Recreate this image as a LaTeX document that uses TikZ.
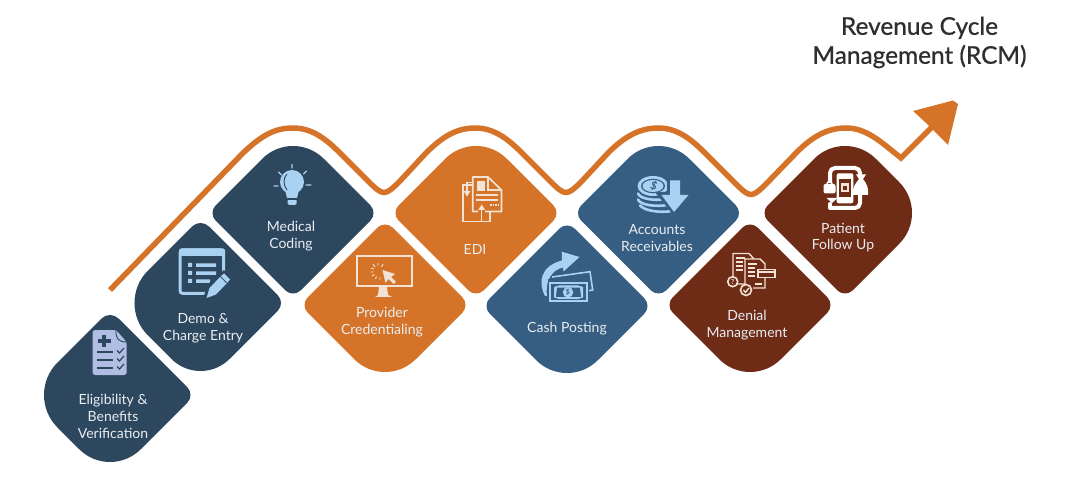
\documentclass[tikz,border=0pt]{standalone}
\usepackage{fontspec}
\setmainfont{Lato}
\newfontfamily\titlefont[FakeBold=0.8]{Lato}
\definecolor{cnavy}{HTML}{2D475F}
\definecolor{cblue}{HTML}{365D82}
\definecolor{corange}{HTML}{D57429}
\definecolor{cbrown}{HTML}{6E2B16}
\definecolor{clight}{HTML}{A9D2F2}
\definecolor{cperi}{HTML}{B1BEE3}
\definecolor{cpale}{HTML}{F2E3D6}
\definecolor{ctext}{HTML}{E9EEF2}
\definecolor{ctitle}{HTML}{2E2E2E}
\newcommand{\rdia}[7]{% cx cy colour sagT sagR sagB sagL
  \pgfmathsetmacro{\aT}{#4/.586}\pgfmathsetmacro{\bT}{\aT*.4477}
  \pgfmathsetmacro{\aR}{#5/.586}\pgfmathsetmacro{\bR}{\aR*.4477}
  \pgfmathsetmacro{\aB}{#6/.586}\pgfmathsetmacro{\bB}{\aB*.4477}
  \pgfmathsetmacro{\aL}{#7/.586}\pgfmathsetmacro{\bL}{\aL*.4477}
  \fill[#3] (#1-\aT,#2-85+\aT) .. controls (#1-\bT,#2-85+\bT) and (#1+\bT,#2-85+\bT) .. (#1+\aT,#2-85+\aT)
   -- (#1+85-\aR,#2-\aR) .. controls (#1+85-\bR,#2-\bR) and (#1+85-\bR,#2+\bR) .. (#1+85-\aR,#2+\aR)
   -- (#1+\aB,#2+85-\aB) .. controls (#1+\bB,#2+85-\bB) and (#1-\bB,#2+85-\bB) .. (#1-\aB,#2+85-\aB)
   -- (#1-85+\aL,#2+\aL) .. controls (#1-85+\bL,#2+\bL) and (#1-85+\bL,#2-\bL) .. (#1-85+\aL,#2-\aL)
   -- cycle;}
\tikzset{
  x=1pt,y=-1pt,
  lbl/.style={text=ctext,font=\fontsize{14}{16.8}\selectfont,align=center,inner sep=0pt},
  ttl/.style={text=ctitle,font=\titlefont\fontsize{24.4}{29}\selectfont,align=center,inner sep=0pt},
  route/.style={draw=corange,line width=5.5pt,miter limit=10},
}
\begin{document}
\begin{tikzpicture}
\useasboundingbox (0,0) rectangle (1076,478);
% route
\draw[route] (110,290) -- (243,153)
  .. controls (262,135) and (275,128) .. (293,128)
  .. controls (312,128) and (326,139) .. (340,153)
  -- (368,181) .. controls (376,189) and (380,192.5) .. (384,192.5)
  .. controls (388,192.5) and (392,189) .. (400,181)
  -- (426,153) .. controls (443,136) and (457,128) .. (475.5,128)
  .. controls (494,128) and (508,139) .. (522,153)
  -- (550,181) .. controls (558,189) and (562,192.5) .. (566,192.5)
  .. controls (570,192.5) and (574,189) .. (582,181)
  -- (608,153) .. controls (625,136) and (640,128) .. (658.5,128)
  .. controls (677,128) and (691,139) .. (705,153)
  -- (735,183) .. controls (743,191) and (747,194.5) .. (751,194.5)
  .. controls (755,194.5) and (759,191) .. (767,183)
  -- (797,152) .. controls (813,136) and (828,128) .. (846,128)
  .. controls (866,128) and (880,141) .. (901,158)
  -- (938,121);
\fill[corange] (913,111) -- (953,100.5) -- (958,104) -- (948,145) -- (936,133) -- (925,122) -- cycle;
% diamonds
\rdia{110}{395}{cnavy}{5}{4.5}{18}{19}
\rdia{200.5}{303}{cnavy}{5}{4.5}{17}{19}
\rdia{293}{213}{cnavy}{18}{4.5}{4.5}{4.5}
\rdia{385}{305}{corange}{4.5}{4.5}{18}{4.5}
\rdia{476}{213}{corange}{18}{4.5}{4.5}{4.5}
\rdia{567}{306}{cblue}{4.5}{4.5}{18}{4.5}
\rdia{658.5}{213}{cblue}{18}{4.5}{4.5}{4.5}
\rdia{750}{305}{cbrown}{4.5}{4.5}{18}{4.5}
\rdia{845}{213}{cbrown}{18}{18}{4.5}{4.5}
% labels
\node[ttl] (title) at (919.5,42.5) {Revenue Cycle\\Management (RCM)};
\node[lbl] (n1) at (113,416.5) {Eligibility \&\\Benefits\\Verification};
\node[lbl] (n2) at (203,328) {Demo \&\\Charge Entry};
\node[lbl] (n3) at (291,236) {Medical\\Coding};
\node[lbl] (n4) at (382,322) {Provider\\Credentialing};
\node[lbl] (n5) at (475,249.5) {EDI};
\node[lbl] (n6) at (567,328.5) {Cash Posting};
\node[lbl] (n7) at (657,238) {Accounts\\Receivables};
\node[lbl] (n8) at (747,325) {Denial\\Management};
\node[lbl] (n9) at (843,237.5) {Patient\\Follow Up};
% icon 1: checklist
\fill[cperi,rounded corners=2.5pt] (92.7,330) -- (116,330) -- (126.7,342) -- (126.7,375) -- (92.7,375) -- cycle;
\draw[cnavy,line width=.9pt] (116,330) .. controls (115.5,338) and (118,342) .. (126.7,342);
\draw[cnavy,line width=4pt] (98,340.7) -- (110.5,340.7) (104.3,334.5) -- (104.3,347);
\draw[cnavy,line width=2pt] (97,351.5) -- (113,351.5) (97,359.5) -- (113,359.5) (97,367.5) -- (113,367.5);
\draw[cnavy,line width=1.2pt] (117,350.5) -- (119.5,353) -- (124,348) (117,358.5) -- (119.5,361) -- (124,356) (117,366.5) -- (119.5,369) -- (124,364);
% icon 2: form and pencil
\draw[clight,line width=3pt,rounded corners=3pt] (209,293.5) -- (180,293.5) -- (180,250) -- (223.5,250) -- (223.5,277);
\fill[clight,rounded corners=2pt] (179,248.5) rectangle (225,256);
\fill[clight] (188,263) rectangle (192,267) (188,271) rectangle (192,275) (188,279) rectangle (192,283);
\fill[clight] (196,263.5) rectangle (216,267) (196,271.5) rectangle (216,275) (196,279.5) rectangle (210,283);
\fill[cnavy] (203,300) -- (207,285) -- (224,270) -- (232,279) -- (215,297) -- cycle;
\fill[clight] (206.5,298) -- (209.5,288) -- (221,276) -- (224,273.5) -- (230,279.5) -- (227,283) -- (216,294.5) -- cycle;
\draw[cnavy,line width=.8pt] (220.5,276.5) -- (226.5,282.8);
% icon 3: bulb
\fill[clight] (292,182) circle (12);
\fill[clight] (285,190) -- (299,190) -- (297,198) -- (287,198) -- cycle;
\draw[cnavy,line width=.9pt] (287,174) .. controls (283,178) and (283,185) .. (287,190);
\fill[clight,rounded corners=1.5pt] (287.5,199) rectangle (296.5,205);
\fill[cnavy] (288,198) rectangle (296,200);
\draw[clight,line width=1.4pt,line cap=round] (292,164.5) -- (292,168) (278.5,172) -- (281.5,175) (306.5,171) -- (303.5,174) (274,186) -- (278,186) (306,185) -- (311,185);
% icon 4: monitor
\draw[cpale,line width=2pt] (357,256) rectangle (412,286);
\fill[cpale] (379,287) -- (387,287) -- (388,295) -- (392,297) -- (375,297) -- (378,295) -- cycle;
\fill[cpale] (382.5,270) -- (395,274) -- (391,277) -- (396,282) -- (393.5,284) -- (388.5,279) -- (385.5,283) -- cycle;
\draw[cpale,line width=.9pt] (378,263) -- (378,266) (383,264) -- (381.5,267) (373,264) -- (375,267) (371,268) -- (374,269) (370.5,272) -- (373.5,272) (372,276) -- (374.5,274.5) (375.5,279) -- (376.5,276.5) (380,280) -- (380,277.5);
% icon 5: EDI documents
\draw[cpale,line width=1.7pt] (472,185) -- (462.9,185) -- (462.9,221.5) -- (490,221.5) -- (490,211.5);
\draw[cpale,line width=1.7pt,line join=round] (478,211.5) -- (472.7,211.5) -- (472.7,177) -- (488,177) -- (501.5,190) -- (501.5,211.5) -- (485,211.5);
\draw[cpale,line width=1.3pt] (488,177) -- (488,190) -- (501.5,190);
\fill[cpale] (476.7,180.7) rectangle (485,190.7);
\draw[cpale,line width=1.3pt] (476,195) -- (497.5,195) (476,200) -- (497.5,200);
\draw[cpale,line width=1.4pt,dash pattern=on 1.6pt off 1pt] (490,205) -- (498,205);
\draw[cpale,line width=1.3pt] (472,182.5) -- (467,182.5) -- (467,192);
\fill[cpale] (463.5,191) -- (470.5,191) -- (467,196.5) -- cycle;
\draw[cpale,line width=1.3pt] (481.7,221) -- (481.7,208);
\fill[cpale] (478.2,210) -- (485.2,210) -- (481.7,204.5) -- cycle;
% icon 6: cash
\fill[clight] (545,296) .. controls (538,283) and (540,266) .. (562,260.5) -- (561.7,251.7) -- (579.5,257) -- (563.5,271.5) -- (563,267.5) .. controls (552,270) and (545,280) .. (547,296) -- cycle;
\draw[clight,line width=1.6pt] (552,277) -- (590,271.7) -- (592.7,290) -- (587,291);
\fill[cblue] (548,279.5) rectangle (589,304);
\draw[clight,line width=2pt] (550,283) rectangle (587,301.5);
\fill[clight] (554,287) -- (559,285.5) -- (578,285.5) -- (583,287) -- (583,297.5) -- (578,299) -- (559,299) -- (554,297.5) -- cycle;
\fill[cblue] (557,287.7) -- (580,287.7) -- (581,296.8) -- (556,296.8) -- cycle;
\fill[clight] (568,292.3) circle (5.2);
\node[inner sep=0pt,text=cblue,font=\fontsize{7}{7}\selectfont\bfseries] (cashsign) at (568,292.3) {\$};
% icon 7: coins
\fill[clight] (653,186) ellipse (15.5 and 10);
\fill[cblue] (653,186) ellipse (12 and 7.2);
\fill[clight] (653,186) ellipse (10.5 and 6);
\node[inner sep=0pt,rotate=-20,text=cblue,font=\fontsize{11}{11}\selectfont\bfseries] (coinsign) at (654,186) {\$};
\draw[clight,line width=2.6pt,line cap=round] (638,193.5) .. controls (640,199) and (655,201) .. (664,199) (638,199.5) .. controls (640,205) and (655,207) .. (668,205) (640,205.5) .. controls (645,211) and (660,213) .. (672,211);
\fill[cblue] (667,177) -- (683,177) -- (683,192) -- (693,192) -- (674,216) -- (655,192) -- (667,192) -- cycle;
\fill[clight] (670,180.5) -- (680,180.5) -- (680,195) -- (688.5,195) -- (674,212) -- (661.5,195) -- (670,195) -- cycle;
% icon 8: denial documents
\draw[cpale,line width=1.4pt] (745,284) -- (733,284) (733,277) -- (733,253.5) -- (749,253.5) -- (754,259);
\draw[cpale,line width=1.1pt] (736,258) -- (745,258) (736,262) -- (743,262) (736,266) -- (743,266) (736,270) -- (743,270);
\draw[cpale,line width=1.4pt,fill=cbrown] (745,284) -- (745,259) -- (760,259) -- (765,264) -- (765,288) -- (753,288);
\draw[cpale,line width=1.1pt] (748,264) -- (757,264) (748,268) -- (755,268) (748,272) -- (755,272) (748,276) -- (755,276) (755,284) -- (762,284);
\draw[cpale,line width=1.3pt,fill=cbrown] (758,269.5) rectangle (775,277.5);
\fill[cpale] (759,271.5) rectangle (774,273);
\draw[cpale,line width=1.6pt,fill=cbrown] (732.7,281.7) circle (5);
\node[inner sep=0pt,text=cpale,font=\fontsize{7}{7}\selectfont\bfseries] (denq) at (732.7,281.7) {?};
\draw[cpale,line width=1.6pt,fill=cbrown] (746,290) circle (5.5);
\draw[cpale,line width=1.4pt] (743.3,290) -- (745.5,292.3) -- (749,288);
% icon 9: patient follow up
\draw[white,line width=4pt,rounded corners=5pt] (830,183) -- (830,168) -- (860,168) -- (860,175) (860,195) -- (860,208) -- (835,208) -- (830,208);
\fill[white] (826.5,198) -- (837.5,198) -- (832,203) -- cycle;
\draw[white,line width=4pt,line cap=round] (830,208) -- (830,204);
\fill[white,rounded corners=2pt] (836.7,173.3) rectangle (853.3,203.3);
\fill[cbrown] (839,179.5) rectangle (851,197.5);
\fill[cpale] (841,183) rectangle (849,192);
\fill[cbrown] (843,186) rectangle (847,190);
\fill[white,rounded corners=2pt] (823.5,184) rectangle (835.5,193.5);
\draw[white,line width=1.6pt] (827,184) arc (180:360:2.5);
\fill[white] (853,195) .. controls (852,187) and (856,183) .. (859,179) -- (856,174.5) -- (866,174.5) -- (863,179) .. controls (866,183) and (869,187) .. (868,195) -- cycle;
\end{tikzpicture}
\end{document}
